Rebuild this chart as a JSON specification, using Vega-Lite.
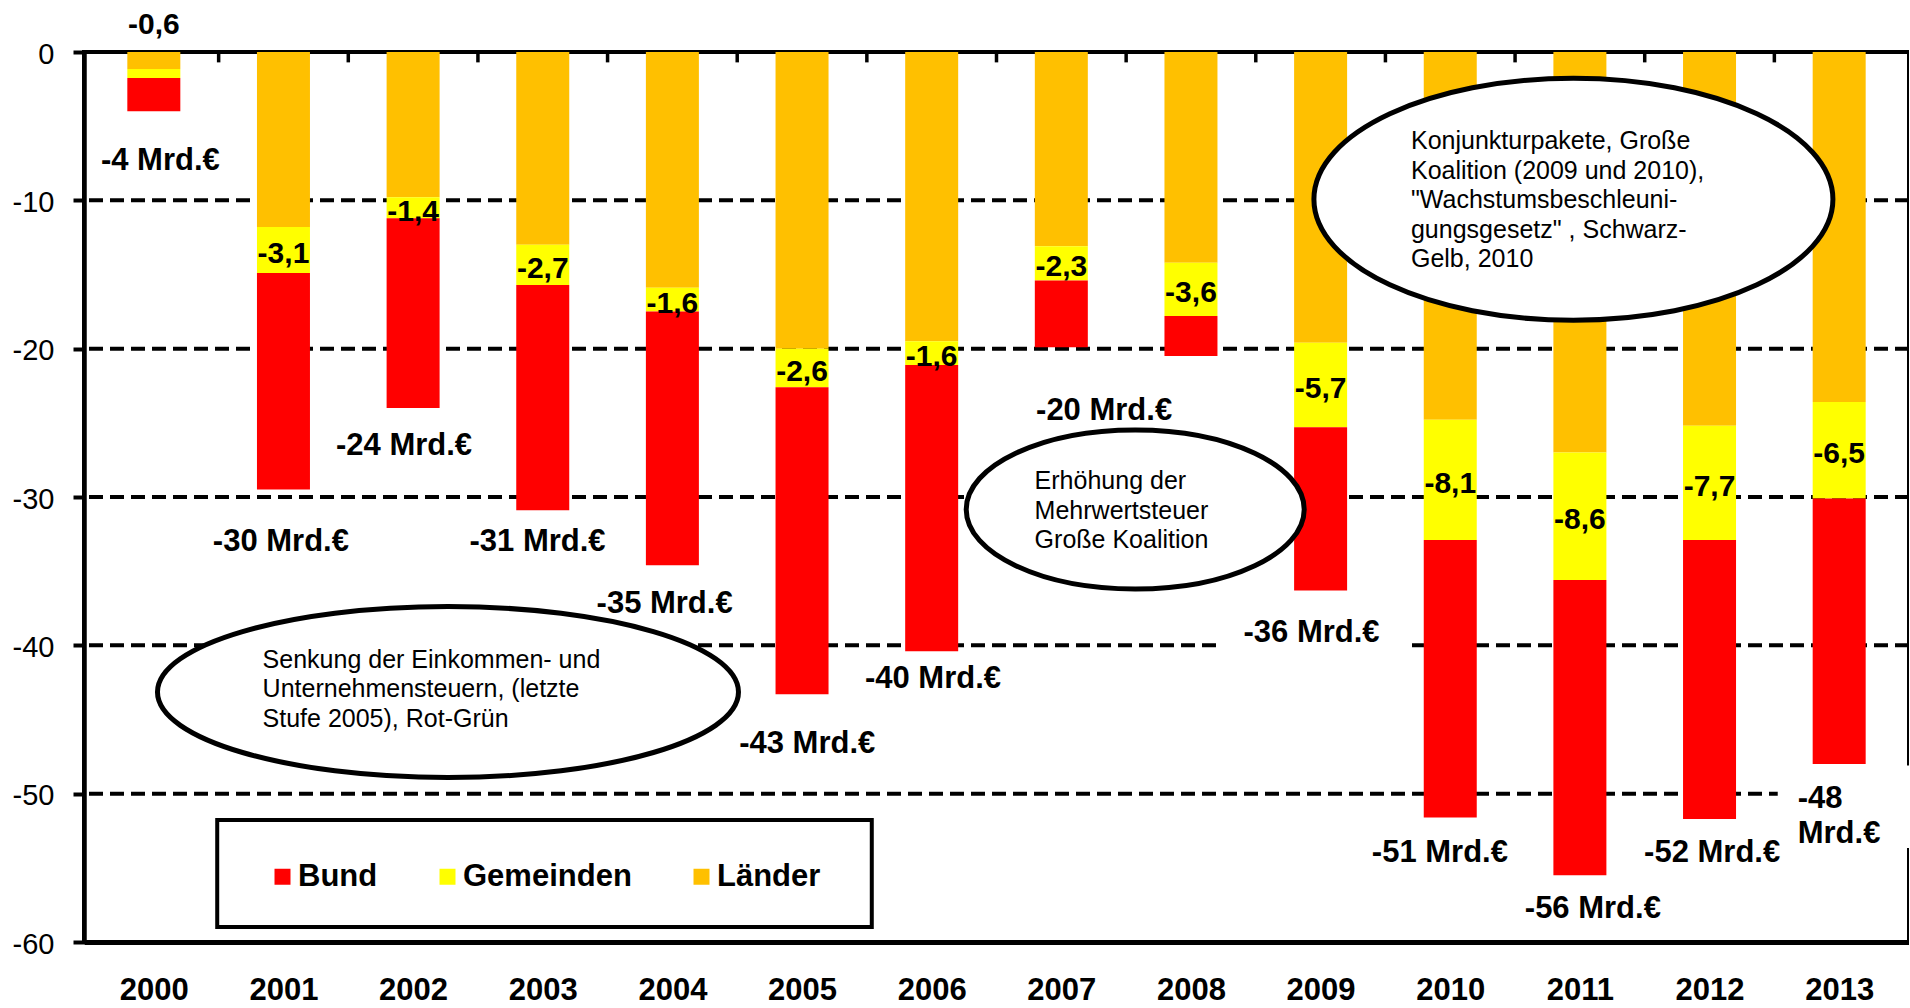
{
  "$schema": "https://vega.github.io/schema/vega-lite/v6.json",
  "autosize": "none",
  "width": 1825,
  "height": 890,
  "padding": {"left": 84, "top": 52, "right": 0, "bottom": 66},
  "background": "white",
  "config": {
    "font": "Liberation Sans",
    "view": {"stroke": "black", "strokeWidth": 4},
    "text": {"font": "Liberation Sans", "color": "black"}
  },
  "datasets": {
    "main": [
      {"year": 2000, "party": "Länder", "value": -1.15}, {"year": 2000, "party": "Gemeinden", "value": -0.6}, {"year": 2000, "party": "Bund", "value": -2.25},
      {"year": 2001, "party": "Länder", "value": -11.8}, {"year": 2001, "party": "Gemeinden", "value": -3.1}, {"year": 2001, "party": "Bund", "value": -14.6},
      {"year": 2002, "party": "Länder", "value": -9.8}, {"year": 2002, "party": "Gemeinden", "value": -1.4}, {"year": 2002, "party": "Bund", "value": -12.8},
      {"year": 2003, "party": "Länder", "value": -13.0}, {"year": 2003, "party": "Gemeinden", "value": -2.7}, {"year": 2003, "party": "Bund", "value": -15.2},
      {"year": 2004, "party": "Länder", "value": -15.9}, {"year": 2004, "party": "Gemeinden", "value": -1.6}, {"year": 2004, "party": "Bund", "value": -17.1},
      {"year": 2005, "party": "Länder", "value": -20.0}, {"year": 2005, "party": "Gemeinden", "value": -2.6}, {"year": 2005, "party": "Bund", "value": -20.7},
      {"year": 2006, "party": "Länder", "value": -19.5}, {"year": 2006, "party": "Gemeinden", "value": -1.6}, {"year": 2006, "party": "Bund", "value": -19.3},
      {"year": 2007, "party": "Länder", "value": -13.1}, {"year": 2007, "party": "Gemeinden", "value": -2.3}, {"year": 2007, "party": "Bund", "value": -4.5},
      {"year": 2008, "party": "Länder", "value": -14.2}, {"year": 2008, "party": "Gemeinden", "value": -3.6}, {"year": 2008, "party": "Bund", "value": -2.7},
      {"year": 2009, "party": "Länder", "value": -19.6}, {"year": 2009, "party": "Gemeinden", "value": -5.7}, {"year": 2009, "party": "Bund", "value": -11.0},
      {"year": 2010, "party": "Länder", "value": -24.8}, {"year": 2010, "party": "Gemeinden", "value": -8.1}, {"year": 2010, "party": "Bund", "value": -18.7},
      {"year": 2011, "party": "Länder", "value": -27.0}, {"year": 2011, "party": "Gemeinden", "value": -8.6}, {"year": 2011, "party": "Bund", "value": -19.9},
      {"year": 2012, "party": "Länder", "value": -25.2}, {"year": 2012, "party": "Gemeinden", "value": -7.7}, {"year": 2012, "party": "Bund", "value": -18.8},
      {"year": 2013, "party": "Länder", "value": -23.6}, {"year": 2013, "party": "Gemeinden", "value": -6.5}, {"year": 2013, "party": "Bund", "value": -17.9}
    ],
    "totals": [
      {"x": 2000.05, "y": -7.33, "label": "-4 Mrd.€"},
      {"x": 2000.98, "y": -33.02, "label": "-30 Mrd.€"},
      {"x": 2001.93, "y": -26.59, "label": "-24 Mrd.€"},
      {"x": 2002.96, "y": -33.02, "label": "-31 Mrd.€"},
      {"x": 2003.94, "y": -37.18, "label": "-35 Mrd.€"},
      {"x": 2005.04, "y": -46.64, "label": "-43 Mrd.€"},
      {"x": 2006.01, "y": -42.27, "label": "-40 Mrd.€"},
      {"x": 2007.33, "y": -24.2, "label": "-20 Mrd.€"},
      {"x": 2008.93, "y": -39.2, "label": "-36 Mrd.€"},
      {"x": 2009.92, "y": -53.97, "label": "-51 Mrd.€"},
      {"x": 2011.1, "y": -57.77, "label": "-56 Mrd.€"},
      {"x": 2012.02, "y": -53.97, "label": "-52 Mrd.€"}
    ],
    "notes": [
      {"x": 2000.839, "y": -40.97, "label": "Senkung der Einkommen-  und\nUnternehmensteuern,  (letzte\nStufe 2005), Rot-Grün"},
      {"x": 2006.794, "y": -28.95, "label": "Erhöhung der\nMehrwertsteuer\nGroße Koalition"},
      {"x": 2009.697, "y": -6.03, "label": "Konjunkturpakete,  Große\nKoalition  (2009 und 2010),\n\"Wachstumsbeschleuni-\ngungsgesetz\" , Schwarz-\nGelb, 2010"}
    ]
  },
  "resolve": {"axis": {"x": "independent"}},
  "layer": [
    {
      "data": {"values": [{"g": -10}, {"g": -20}, {"g": -30}, {"g": -40}, {"g": -50}]},
      "mark": {"type": "rule", "color": "black", "strokeWidth": 4, "strokeDash": [14, 7]},
      "encoding": {"y": {"field": "g", "type": "quantitative", "axis": {"title": null}}}
    },
    {
      "data": {"name": "main"},
      "mark": {"type": "bar", "width": 53},
      "encoding": {
        "x": {
          "field": "year", "type": "quantitative",
          "scale": {"domain": [1999.5, 2013.5], "nice": false, "zero": false},
          "axis": {
            "orient": "bottom", "values": [2000, 2001, 2002, 2003, 2004, 2005, 2006, 2007, 2008, 2009, 2010, 2011, 2012, 2013],
            "format": "d", "title": null, "grid": false, "ticks": false, "tickSize": 0,
            "domain": true, "domainColor": "black", "domainWidth": 5,
            "labelFont": "Liberation Sans", "labelFontSize": 31, "labelFontWeight": "bold", "labelColor": "black",
            "labelPadding": 57, "labelBaseline": "alphabetic", "labelFlush": false, "labelOverlap": false, "zindex": 1
          }
        },
        "y": {
          "field": "value", "type": "quantitative", "stack": "zero",
          "scale": {"domain": [-60, 0], "nice": false, "zero": false},
          "axis": {
            "orient": "left", "values": [-60, -50, -40, -30, -20, -10, 0], "title": null, "grid": false,
            "domain": true, "domainColor": "black", "domainWidth": 4.5, "ticks": true, "tickColor": "black", "tickWidth": 4, "tickSize": 11,
            "labels": true, "labelFont": "Liberation Sans", "labelFontSize": 29, "labelColor": "black", "labelPadding": 19,
            "labelFlush": false, "labelOverlap": false, "labelOffset": 2, "labelExpr": "datum.value + ''", "zindex": 1
          }
        },
        "color": {
          "field": "party", "type": "nominal",
          "scale": {"domain": ["Bund", "Gemeinden", "Länder"], "range": ["#FF0000", "#FFFF00", "#FFC000"]},
          "legend": {
            "title": null, "orient": "none", "legendX": 183, "legendY": 809, "direction": "horizontal",
            "symbolType": "square", "symbolSize": 256, "symbolStrokeWidth": 0,
            "labelFont": "Liberation Sans", "labelFontSize": 31, "labelFontWeight": "bold", "labelColor": "black",
            "labelOffset": 0, "columnPadding": 54, "padding": 0, "labelLimit": 400
          }
        },
        "order": {"field": "party", "sort": "descending"}
      }
    },
    {
      "data": {"values": [{"t": 2000.5}, {"t": 2001.5}, {"t": 2002.5}, {"t": 2003.5}, {"t": 2004.5}, {"t": 2005.5}, {"t": 2006.5}, {"t": 2007.5}, {"t": 2008.5}, {"t": 2009.5}, {"t": 2010.5}, {"t": 2011.5}, {"t": 2012.5}]},
      "mark": {"type": "rule", "color": "black", "strokeWidth": 3.5},
      "encoding": {
        "x": {"field": "t", "type": "quantitative", "axis": null},
        "y": {"datum": 0, "type": "quantitative", "axis": {"title": null}},
        "y2": {"datum": -0.7}
      }
    },
    {
      "data": {"values": [{}]},
      "mark": {"type": "rect", "color": "white"},
      "encoding": {
        "x": {"datum": 2008.234, "type": "quantitative", "axis": null},
        "x2": {"datum": 2009.652},
        "y": {"datum": -37.75, "type": "quantitative", "axis": {"title": null}},
        "y2": {"datum": -40.45}
      }
    },
    {
      "data": {"values": [{}]},
      "mark": {"type": "rect", "color": "white"},
      "encoding": {
        "x": {"datum": 2012.526, "type": "quantitative", "axis": null},
        "x2": {"datum": 2013.6},
        "y": {"datum": -48.1, "type": "quantitative", "axis": {"title": null}},
        "y2": {"datum": -53.66}
      }
    },
    {
      "data": {"values": [{"x": 2002.269, "y": -43.15}]},
      "mark": {"type": "point", "shape": "M1,0C1,0.1625 0.5523,0.2943 0,0.2943C-0.5523,0.2943 -1,0.1625 -1,0C-1,-0.1625 -0.5523,-0.2943 0,-0.2943C0.5523,-0.2943 1,-0.1625 1,0Z", "size": 337561, "filled": true, "fill": "white", "stroke": "black", "strokeWidth": 5, "opacity": 1},
      "encoding": {"x": {"field": "x", "type": "quantitative", "axis": null}, "y": {"field": "y", "type": "quantitative", "axis": {"title": null}}}
    },
    {
      "data": {"values": [{"x": 2007.57, "y": -30.84}]},
      "mark": {"type": "point", "shape": "M1,0C1,0.2598 0.5523,0.4704 0,0.4704C-0.5523,0.4704 -1,0.2598 -1,0C-1,-0.2598 -0.5523,-0.4704 0,-0.4704C0.5523,-0.4704 1,-0.2598 1,0Z", "size": 114244, "filled": true, "fill": "white", "stroke": "black", "strokeWidth": 5, "opacity": 1},
      "encoding": {"x": {"field": "x", "type": "quantitative", "axis": null}, "y": {"field": "y", "type": "quantitative", "axis": {"title": null}}}
    },
    {
      "data": {"values": [{"x": 2010.95, "y": -9.93}]},
      "mark": {"type": "point", "shape": "M1,0C1,0.2575 0.5523,0.4663 0,0.4663C-0.5523,0.4663 -1,0.2575 -1,0C-1,-0.2575 -0.5523,-0.4663 0,-0.4663C0.5523,-0.4663 1,-0.2575 1,0Z", "size": 269361, "filled": true, "fill": "white", "stroke": "black", "strokeWidth": 5, "opacity": 1},
      "encoding": {"x": {"field": "x", "type": "quantitative", "axis": null}, "y": {"field": "y", "type": "quantitative", "axis": {"title": null}}}
    },
    {
      "data": {"name": "notes"},
      "mark": {"type": "text", "font": "Liberation Sans", "fontSize": 25, "align": "left", "baseline": "middle", "lineHeight": 29.5, "lineBreak": "\n", "color": "black"},
      "encoding": {
        "x": {"field": "x", "type": "quantitative", "axis": null},
        "y": {"field": "y", "type": "quantitative", "axis": {"title": null}},
        "text": {"field": "label"}
      }
    },
    {
      "data": {"name": "main"},
      "transform": [
        {"stack": "value", "groupby": ["year"], "sort": [{"field": "party", "order": "descending"}], "as": ["v0", "v1"]},
        {"filter": "datum.party === 'Gemeinden' && datum.year !== 2000"},
        {"calculate": "(datum.v0 + datum.v1) / 2", "as": "mid"},
        {"calculate": "replace(datum.value + '', '.', ',')", "as": "lbl"}
      ],
      "mark": {"type": "text", "font": "Liberation Sans", "fontSize": 30, "fontWeight": "bold", "align": "center", "baseline": "middle", "dy": 4, "color": "black"},
      "encoding": {
        "x": {"field": "year", "type": "quantitative", "axis": null},
        "y": {"field": "mid", "type": "quantitative", "axis": {"title": null}},
        "text": {"field": "lbl"}
      }
    },
    {
      "data": {"values": [{"x": 2000, "y": 1.85, "label": "-0,6"}]},
      "mark": {"type": "text", "font": "Liberation Sans", "fontSize": 30, "fontWeight": "bold", "align": "center", "baseline": "middle", "color": "black"},
      "encoding": {
        "x": {"field": "x", "type": "quantitative", "axis": null},
        "y": {"field": "y", "type": "quantitative", "axis": {"title": null}},
        "text": {"field": "label"}
      }
    },
    {
      "data": {"name": "totals"},
      "mark": {"type": "text", "font": "Liberation Sans", "fontSize": 31, "fontWeight": "bold", "align": "center", "baseline": "middle", "color": "black"},
      "encoding": {
        "x": {"field": "x", "type": "quantitative", "axis": null},
        "y": {"field": "y", "type": "quantitative", "axis": {"title": null}},
        "text": {"field": "label"}
      }
    },
    {
      "data": {"values": [{"x": 2012.68, "y": -50.36, "label": "-48\nMrd.€"}]},
      "mark": {"type": "text", "font": "Liberation Sans", "fontSize": 31, "fontWeight": "bold", "align": "left", "baseline": "middle", "lineHeight": 35, "lineBreak": "\n", "color": "black"},
      "encoding": {
        "x": {"field": "x", "type": "quantitative", "axis": null},
        "y": {"field": "y", "type": "quantitative", "axis": {"title": null}},
        "text": {"field": "label"}
      }
    },
    {
      "data": {"values": [{}]},
      "mark": {"type": "rect", "fill": "white", "stroke": "black", "strokeWidth": 4},
      "encoding": {
        "x": {"datum": 2000.489, "type": "quantitative", "axis": null},
        "x2": {"datum": 2005.538},
        "y": {"datum": -51.78, "type": "quantitative", "axis": {"title": null}},
        "y2": {"datum": -58.99}
      }
    }
  ]
}
